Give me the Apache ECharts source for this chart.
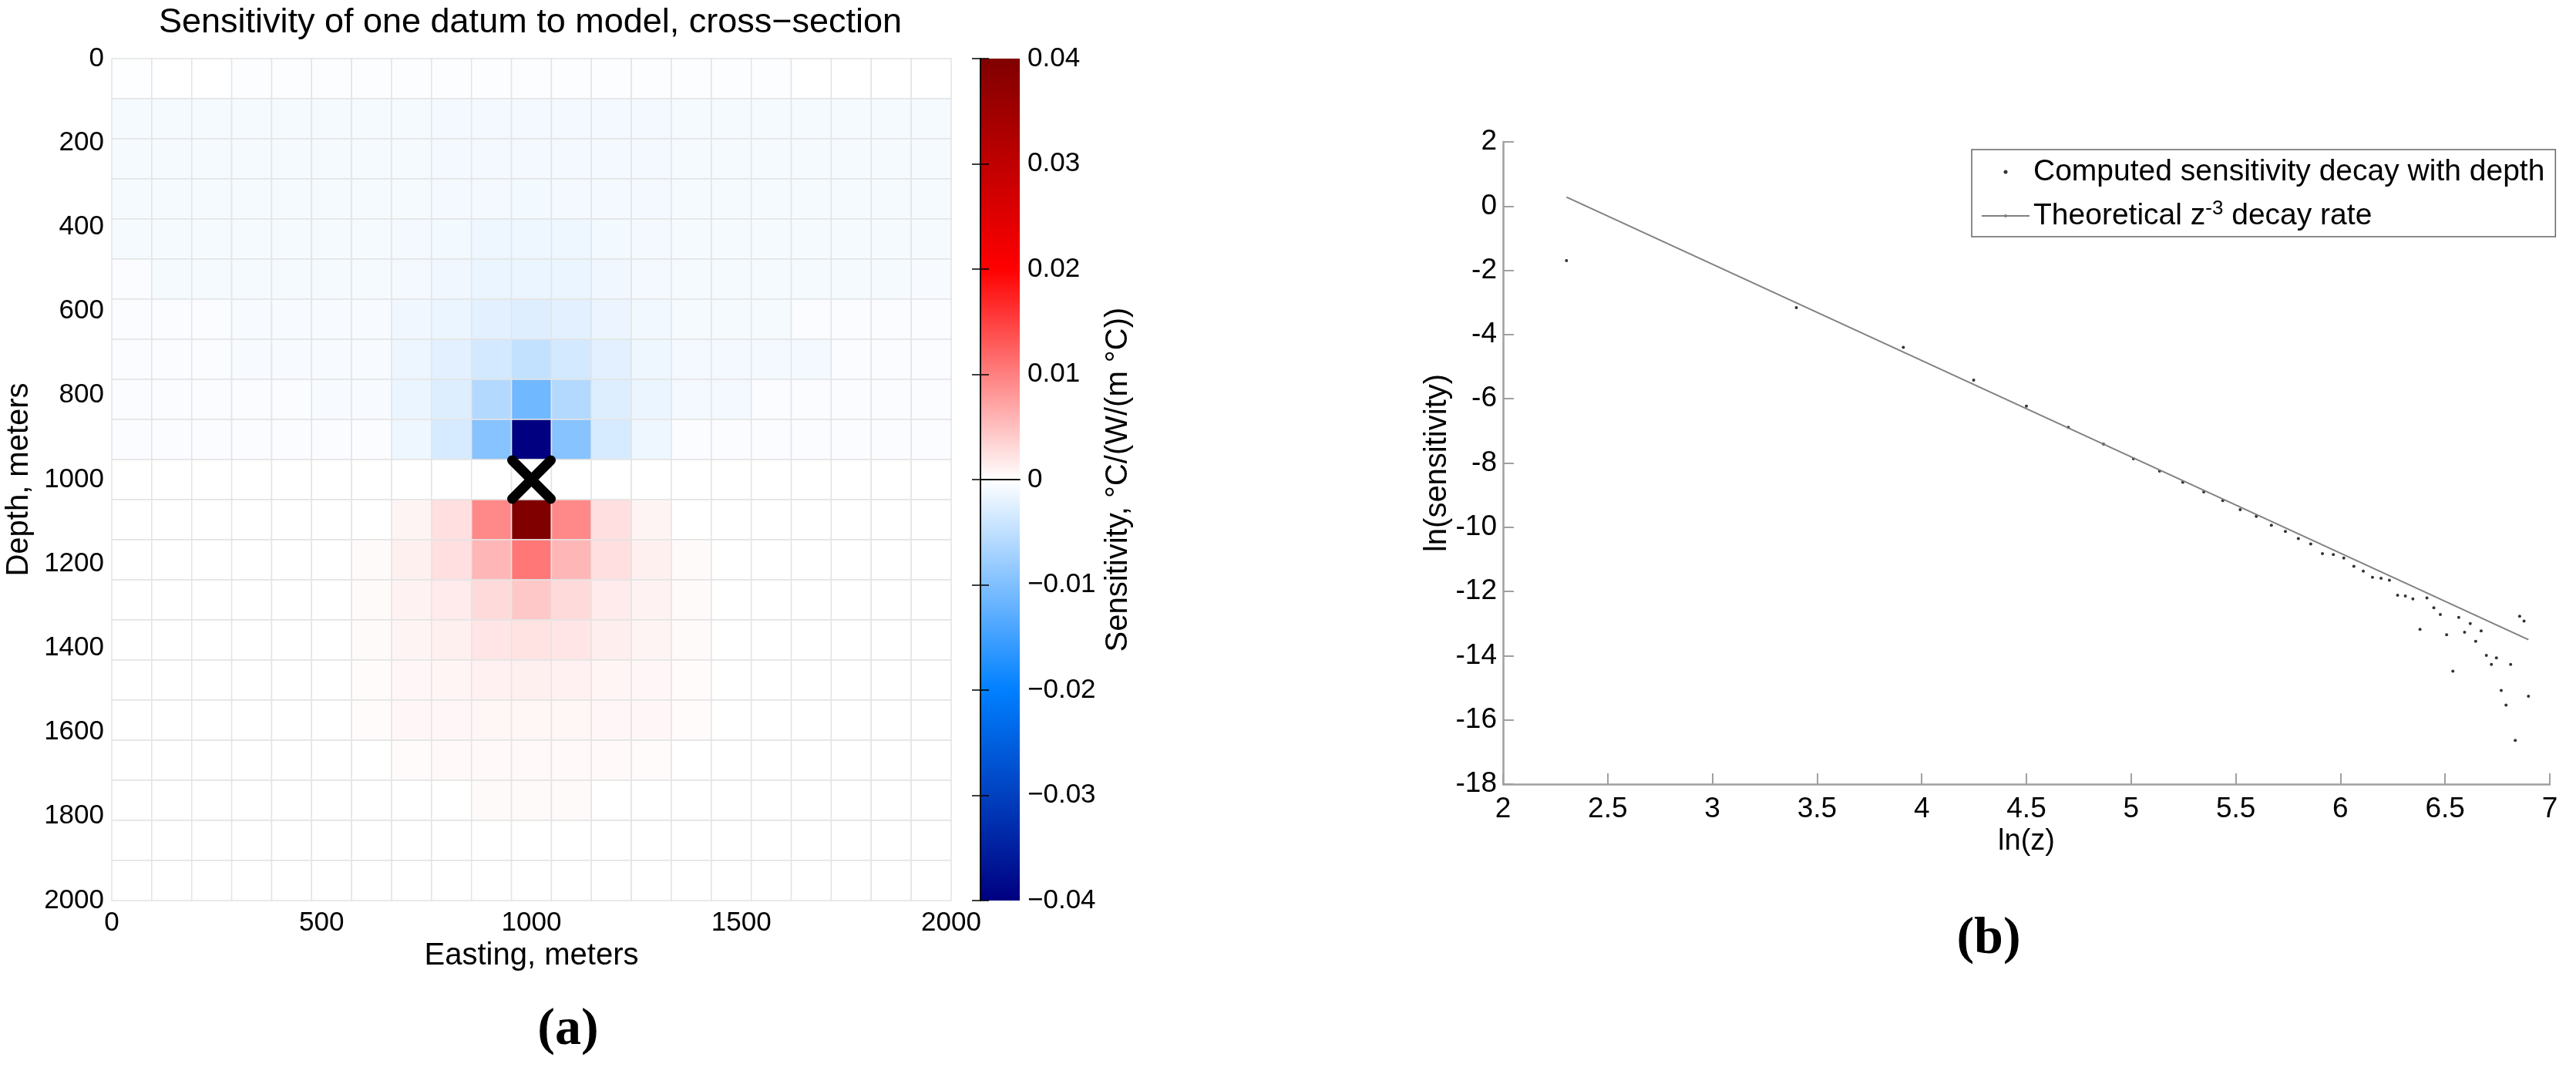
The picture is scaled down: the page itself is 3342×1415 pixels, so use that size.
<!DOCTYPE html>
<html><head><meta charset="utf-8">
<script src="https://cdn.jsdelivr.net/npm/echarts@6/dist/echarts.min.js"></script>
<style>html,body{margin:0;padding:0;background:#fff}#main{width:3342px;height:1415px}</style>
</head><body><div id="main"></div>
<script>
// ---- Panel (a): model cell edges (metres) ----
const cellEdges = [0, 95.2, 190.5, 285.7, 381, 476.2, 571.4, 666.7, 761.9, 857.1, 952.4,
  1047.6, 1142.9, 1238.1, 1333.3, 1428.6, 1523.8, 1619, 1714.3, 1809.5, 1904.8, 2000];

// Sensitivity per cell, rows = depth (top to bottom), cols = easting (west to east)
const sensRow0  = [-0.0002,0,0,-0.0003,-0.0003,-0.0003,-0.0003,-0.0003,-0.0003,-0.0003,-0.0003,-0.0003,-0.0003,-0.0003,-0.0003,-0.0003,-0.0003,0,0,0,0];
const sensRow1  = [-0.0008,-0.0008,-0.0008,-0.0008,-0.0008,-0.0008,-0.0008,-0.0008,-0.0009,-0.0009,-0.0009,-0.0009,-0.0009,-0.0009,-0.0008,-0.0008,-0.0008,-0.0008,-0.0008,-0.0008,-0.0008];
const sensRow2  = [-0.0008,-0.0008,-0.0008,-0.0008,-0.0008,-0.0008,-0.0008,-0.0008,-0.0009,-0.0009,-0.0009,-0.0009,-0.0009,-0.0009,-0.0008,-0.0008,-0.0008,-0.0008,-0.0008,-0.0008,-0.0008];
const sensRow3  = [-0.0008,-0.0008,-0.0008,-0.0008,-0.0008,-0.0008,-0.0008,-0.0008,-0.0009,-0.0009,-0.001,-0.0009,-0.0009,-0.0009,-0.0008,-0.0008,-0.0008,-0.0008,-0.0008,-0.0008,-0.0008];
const sensRow4  = [-0.0008,-0.0008,-0.0008,-0.0008,-0.0008,-0.0008,-0.0008,-0.0009,-0.001,-0.0013,-0.0013,-0.0013,-0.001,-0.0009,-0.0008,-0.0008,-0.0008,-0.0008,-0.0008,-0.0008,-0.0008];
const sensRow5  = [-0.0004,-0.0008,-0.0008,-0.0008,-0.0008,-0.0008,-0.0008,-0.0009,-0.0012,-0.0016,-0.0016,-0.0016,-0.0012,-0.0009,-0.0008,-0.0008,-0.0008,-0.0008,-0.0008,-0.0008,-0.0006];
const sensRow6  = [-0.0004,-0.0004,-0.0004,-0.0006,-0.0006,-0.0006,-0.0006,-0.0012,-0.0016,-0.0023,-0.0026,-0.0023,-0.0015,-0.0011,-0.0008,-0.0008,-0.0008,-0.0004,-0.0004,-0.0004,-0.0004];
const sensRow7  = [-0.0004,-0.0004,-0.0004,-0.0006,-0.0006,-0.0006,-0.0006,-0.0014,-0.0023,-0.0035,-0.0048,-0.0035,-0.0023,-0.0013,-0.0009,-0.0009,-0.0009,-0.0009,-0.0004,-0.0004,-0.0004];
const sensRow8  = [-0.0004,-0.0004,-0.0004,-0.0004,-0.0004,-0.0006,-0.0006,-0.0016,-0.0027,-0.006,-0.0112,-0.006,-0.0027,-0.0016,-0.0009,-0.0009,-0.0004,-0.0004,-0.0004,-0.0004,-0.0004];
const sensRow9  = [-0.0004,-0.0004,-0.0004,-0.0004,-0.0004,-0.0004,-0.0004,-0.0013,-0.0032,-0.0095,-0.04,-0.0095,-0.0032,-0.0013,-0.0004,-0.0004,-0.0004,-0.0004,-0.0004,-0.0004,-0.0004];
const sensRow10 = [0,0,0,0,0,0,0,0,0,0,0,0,0,0,0,0,0,0,0,0,0];
const sensRow11 = [0,0,0,0,0,0,0,0.0009,0.0025,0.0093,0.04,0.0093,0.0025,0.0009,0,0,0,0,0,0,0];
const sensRow12 = [0,0,0,0,0,0,0.0004,0.0012,0.0025,0.0057,0.0107,0.0057,0.0025,0.0012,0.0004,0,0,0,0,0,0];
const sensRow13 = [0,0,0,0,0,0,0.0004,0.001,0.0016,0.0029,0.0043,0.0029,0.0016,0.001,0.0004,0,0,0,0,0,0];
const sensRow14 = [0,0,0,0,0,0,0.0004,0.0009,0.0012,0.002,0.0022,0.002,0.0013,0.0009,0.0004,0,0,0,0,0,0];
const sensRow15 = [0,0,0,0,0,0,0.0003,0.0006,0.0008,0.0011,0.0012,0.0011,0.0008,0.0006,0.0003,0,0,0,0,0,0];
const sensRow16 = [0,0,0,0,0,0,0.0003,0.0006,0.0006,0.0007,0.0007,0.0007,0.0006,0.0006,0.0003,0,0,0,0,0,0];
const sensRow17 = [0,0,0,0,0,0,0,0.0003,0.0005,0.0005,0.0005,0.0005,0.0005,0.0003,0,0,0,0,0,0,0];
const sensRow18 = [0,0,0,0,0,0,0,0,0,0.0004,0.0004,0.0004,0,0,0,0,0,0,0,0,0];
const sensRow19 = [0,0,0,0,0,0,0,0,0,0,0,0,0,0,0,0,0,0,0,0,0];
const sensRow20 = [0,0,0,0,0,0,0,0,0,0,0,0,0,0,0,0,0,0,0,0,0];
const sensRows = [sensRow0,sensRow1,sensRow2,sensRow3,sensRow4,sensRow5,sensRow6,sensRow7,sensRow8,sensRow9,sensRow10,
  sensRow11,sensRow12,sensRow13,sensRow14,sensRow15,sensRow16,sensRow17,sensRow18,sensRow19,sensRow20];

const datumLocation = [[1000, 1000]];           // easting, depth of the datum
const colorRange = [-0.04, 0.04];
const colormap = ['#000080', '#0080ff', '#ffffff', '#ff0000', '#800000'];

// ---- Panel (b) ----
const lnZ = [2.303, 3.401, 3.912, 4.248, 4.500, 4.700, 4.868, 5.011, 5.136, 5.247, 5.347, 5.438, 5.521,
  5.598, 5.670, 5.737, 5.799, 5.858, 5.914, 5.966, 6.016, 6.064, 6.109, 6.153, 6.194, 6.234,
  6.273, 6.310, 6.346, 6.380, 6.413, 6.446, 6.477, 6.507, 6.537, 6.565, 6.593, 6.620, 6.646,
  6.672, 6.697, 6.721, 6.745, 6.768, 6.791, 6.813, 6.835, 6.856, 6.877, 6.898];
const lnSens = [-1.70, -3.16, -4.40, -5.42, -6.23, -6.89, -7.41, -7.87, -8.25, -8.60, -8.90, -9.17, -9.45,
  -9.66, -9.94, -10.13, -10.35, -10.52, -10.82, -10.85, -10.96, -11.22, -11.37, -11.56, -11.59, -11.65,
  -12.12, -12.14, -12.23, -13.18, -12.20, -12.51, -12.72, -13.35, -14.48, -12.81, -13.27, -13.00, -13.55,
  -13.23, -13.99, -14.27, -14.07, -15.08, -15.54, -14.27, -16.64, -12.77, -12.92, -15.26];
const theoryX = [2.303, 6.898];
const theoryY = [0.28, -13.5];

const NAME_DOTS = 'Computed sensitivity decay with depth';
const NAME_LINE = 'Theoretical z-3 decay rate';

// ---- build series data ----
const heatData = [];
sensRows.forEach((row, r) => row.forEach((v, c) => {
  heatData.push([cellEdges[c], cellEdges[r], cellEdges[c + 1], cellEdges[r + 1], v]);
}));
const dotData = lnZ.map((x, i) => [x, lnSens[i]]);
const lineData = theoryX.map((x, i) => [x, theoryY[i]]);

const FONT = 'Liberation Sans';
const chart = echarts.init(document.getElementById('main'), null, {renderer: 'canvas', width: 3342, height: 1415});

const plain = v => String(v);
const blackAxisLine = {show: true, lineStyle: {color: '#000', width: 1.5}};
const greyAxis = {
  axisLine: {show: true, onZero: false, lineStyle: {color: '#a0a0a0', width: 2.5}},
  axisTick: {show: true, inside: true, length: 14, lineStyle: {color: '#a0a0a0', width: 2}},
  splitLine: {show: false}
};

chart.setOption({
  animation: false,
  textStyle: {fontFamily: FONT},
  title: [{
    text: 'Sensitivity of one datum to model, cross\u2212section',
    left: 688, top: 7, textAlign: 'center', padding: 0,
    textStyle: {fontFamily: FONT, fontSize: 45, fontWeight: 'normal', color: '#000'}
  }],
  grid: [
    {left: 145, top: 76, width: 1089, height: 1092},
    {left: 1950, top: 184, width: 1358, height: 833},
    {left: 1272, top: 76, width: 51, height: 1092}
  ],
  xAxis: [
    {gridIndex: 0, type: 'value', min: 0, max: 2000, interval: 500,
      axisLine: {show: false}, axisTick: {show: false}, splitLine: {show: false},
      axisLabel: {fontSize: 35, color: '#000', margin: 12, fontFamily: FONT, formatter: plain},
      name: 'Easting, meters', nameLocation: 'middle', nameGap: 50,
      nameTextStyle: {fontSize: 40, color: '#000', fontFamily: FONT}},
    Object.assign({gridIndex: 1, type: 'value', min: 2, max: 7, interval: 0.5,
      axisLabel: {fontSize: 37, color: '#000', margin: 14, fontFamily: FONT, formatter: plain},
      name: 'ln(z)', nameLocation: 'middle', nameGap: 55,
      nameTextStyle: {fontSize: 38, color: '#000', fontFamily: FONT}}, greyAxis),
    {gridIndex: 2, type: 'value', min: 0, max: 1, position: 'bottom', z: 10,
      axisLine: blackAxisLine, axisTick: {show: false}, axisLabel: {show: false}, splitLine: {show: false}},
    {gridIndex: 2, type: 'value', min: 0, max: 1, position: 'top', z: 10,
      axisLine: blackAxisLine, axisTick: {show: false}, axisLabel: {show: false}, splitLine: {show: false}}
  ],
  yAxis: [
    {gridIndex: 0, type: 'value', min: 0, max: 2000, interval: 200, inverse: true,
      axisLine: {show: false}, axisTick: {show: false}, splitLine: {show: false},
      axisLabel: {fontSize: 35, color: '#000', margin: 10, fontFamily: FONT, formatter: plain},
      name: 'Depth, meters', nameLocation: 'middle', nameGap: 100, nameRotate: 90,
      nameTextStyle: {fontSize: 40, color: '#000', fontFamily: FONT}},
    Object.assign({gridIndex: 1, type: 'value', min: -18, max: 2, interval: 2,
      axisLabel: {fontSize: 37, color: '#000', margin: 8, fontFamily: FONT, formatter: plain},
      name: 'ln(sensitivity)', nameLocation: 'middle', nameGap: 62, nameRotate: 90,
      nameTextStyle: {fontSize: 40, color: '#000', fontFamily: FONT}}, greyAxis),
    {gridIndex: 2, type: 'value', min: colorRange[0], max: colorRange[1], interval: 0.01, position: 'right', z: 10,
      axisLine: blackAxisLine,
      axisTick: {show: true, inside: true, length: 11, lineStyle: {color: '#000', width: 1.5}},
      splitLine: {show: false},
      axisLabel: {fontSize: 35, color: '#000', margin: 10, fontFamily: FONT,
        formatter: v => Math.abs(v) < 1e-9 ? '0' : (v < 0 ? '\u2212' : '') + Math.abs(v).toFixed(2)}},
    {gridIndex: 2, type: 'value', min: colorRange[0], max: colorRange[1], interval: 0.01, position: 'left', z: 10,
      axisLine: blackAxisLine,
      axisTick: {show: true, inside: true, length: 11, lineStyle: {color: '#000', width: 1.5}},
      splitLine: {show: false}, axisLabel: {show: false}}
  ],
  visualMap: {
    type: 'continuous', show: false, seriesIndex: 0, dimension: 4,
    min: colorRange[0], max: colorRange[1], inRange: {color: colormap}
  },
  legend: {
    data: [{name: NAME_DOTS, icon: 'circle'}, {name: NAME_LINE}],
    orient: 'vertical', left: 2558, top: 194,
    itemWidth: 62, itemHeight: 5, itemGap: 13,
    padding: [7, 14, 5, 12],
    borderColor: '#666', borderWidth: 1.5, selectedMode: false,
    formatter: n => n === NAME_LINE ? 'Theoretical z{sup|-3} decay rate' : n,
    textStyle: {fontSize: 39, color: '#000', lineHeight: 44, fontFamily: FONT,
      rich: {sup: {fontSize: 26, lineHeight: 16, verticalAlign: 'top', color: '#000', fontFamily: FONT}}}
  },
  graphic: [
    {type: 'text', x: 1451, y: 622, rotation: Math.PI / 2,
      style: {text: 'Sensitivity, \u00b0C/(W/(m \u00b0C))', fontSize: 40, fontFamily: FONT, fill: '#000',
        align: 'center', verticalAlign: 'middle'}},
    {type: 'text', x: 737, y: 1336,
      style: {text: '(a)', fontSize: 68, fontFamily: 'Liberation Serif', fontWeight: 'bold', fill: '#000',
        align: 'center', verticalAlign: 'middle'}},
    {type: 'text', x: 2580, y: 1218,
      style: {text: '(b)', fontSize: 68, fontFamily: 'Liberation Serif', fontWeight: 'bold', fill: '#000',
        align: 'center', verticalAlign: 'middle'}}
  ],
  series: [
    {
      type: 'custom', name: 'sensitivity', xAxisIndex: 0, yAxisIndex: 0,
      encode: {x: [0, 2], y: [1, 3]}, data: heatData, z: 2,
      renderItem: (params, api) => {
        const p0 = api.coord([api.value(0), api.value(1)]);
        const p1 = api.coord([api.value(2), api.value(3)]);
        return {type: 'rect',
          shape: {x: Math.min(p0[0], p1[0]), y: Math.min(p0[1], p1[1]),
            width: Math.abs(p1[0] - p0[0]), height: Math.abs(p1[1] - p0[1])},
          style: {fill: api.visual('color'), stroke: '#e4e4e4', lineWidth: 1.5}};
      }
    },
    {
      type: 'custom', name: 'datum', xAxisIndex: 0, yAxisIndex: 0, data: datumLocation, z: 5,
      renderItem: (params, api) => {
        const c = api.coord([api.value(0), api.value(1)]);
        const h = 25;
        const st = {stroke: '#000', lineWidth: 13, lineCap: 'round'};
        return {type: 'group', children: [
          {type: 'line', shape: {x1: c[0] - h, y1: c[1] - h, x2: c[0] + h, y2: c[1] + h}, style: st},
          {type: 'line', shape: {x1: c[0] + h, y1: c[1] - h, x2: c[0] - h, y2: c[1] + h}, style: st}
        ]};
      }
    },
    {
      type: 'custom', name: 'colorbar', xAxisIndex: 2, yAxisIndex: 2,
      data: [[0, colorRange[0], 1, colorRange[1]]], z: 2,
      renderItem: (params, api) => {
        const p0 = api.coord([api.value(0), api.value(1)]);
        const p1 = api.coord([api.value(2), api.value(3)]);
        const stops = colormap.map((col, i) => ({offset: i / (colormap.length - 1), color: col}));
        return {type: 'rect',
          shape: {x: Math.min(p0[0], p1[0]), y: Math.min(p0[1], p1[1]),
            width: Math.abs(p1[0] - p0[0]), height: Math.abs(p1[1] - p0[1])},
          style: {fill: new echarts.graphic.LinearGradient(0, 1, 0, 0, stops)}};
      }
    },
    {
      type: 'scatter', name: NAME_DOTS, xAxisIndex: 1, yAxisIndex: 1, data: dotData,
      symbol: 'circle', symbolSize: 4, itemStyle: {color: '#000'}
    },
    {
      type: 'line', name: NAME_LINE, xAxisIndex: 1, yAxisIndex: 1, data: lineData,
      symbol: 'none', lineStyle: {color: '#808080', width: 2}, itemStyle: {color: '#808080'}
    }
  ]
});
</script>
</body></html>
